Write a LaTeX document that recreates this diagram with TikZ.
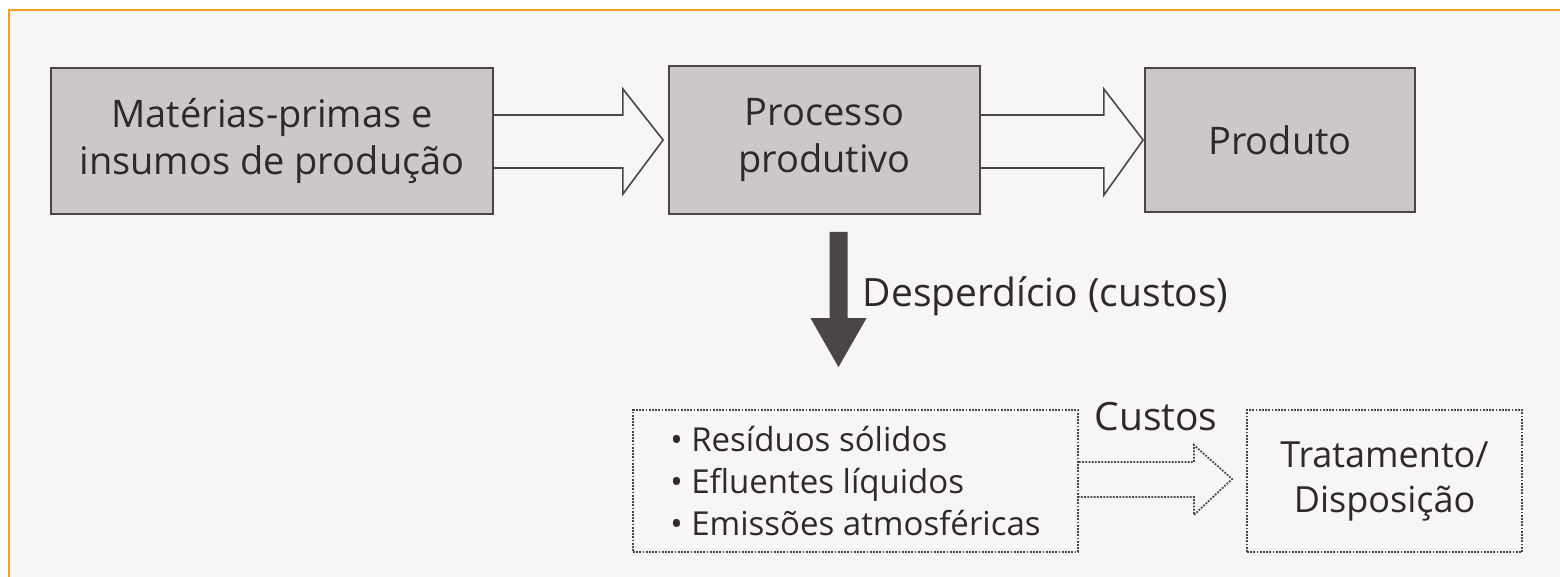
\documentclass[tikz,border=0pt]{standalone}
\usepackage{fontspec}
\setmainfont{Open Sans}
\usetikzlibrary{calc}
\definecolor{bg}{HTML}{F8F5F5}
\definecolor{boxfill}{HTML}{CCC8C8}
\definecolor{edge}{HTML}{4A4646}
\definecolor{ink}{HTML}{2E2A2A}
\definecolor{frame}{HTML}{F0A020}
\begin{document}
\begin{tikzpicture}[x=1pt,y=-1pt,
  gbox/.style={draw=edge, fill=boxfill, line width=1.8pt, inner sep=0pt, align=center, text=ink,
    font=\fontsize{38}{47}\selectfont},
  dbox/.style={draw=edge, line width=1.8pt, dash pattern=on 1.8pt off 1.4pt, inner sep=0pt, text=ink},
  hollow/.style={draw=edge, line width=1.6pt, line join=miter},
  dotarrow/.style={draw=edge, line width=1.8pt, dash pattern=on 1.8pt off 1.4pt},
  solidarrow/.style={fill=edge},
  lbl/.style={text=ink, inner sep=0pt, font=\fontsize{39}{44}\selectfont}
]
\fill[white] (0,0) rectangle (1560,577);
\useasboundingbox (0,0) rectangle (1560,577);
\fill[bg] (9,10) rectangle (1560,577);
\draw[frame, line width=2pt] (9,577) -- (9,10) -- (1560,10);

% top row
\node[gbox, minimum width=442pt, minimum height=146pt] (b1) at (272,141) {Matérias-primas e\\insumos de produção};
\node[gbox, minimum width=311pt, minimum height=148pt] (b2) at (824.5,140) {Processo\\produtivo};
\node[gbox, minimum width=270pt, minimum height=144pt] (b3) at (1280,140) {Produto};

% bottom row
\node[dbox, minimum width=445pt, minimum height=142pt, align=left,
  font=\fontsize{33}{42}\selectfont] (b4) at (855.5,481)
  {• Resíduos sólidos\\• Efluentes líquidos\\• Emissões atmosféricas};
\node[dbox, minimum width=275pt, minimum height=142pt, align=center,
  font=\fontsize{36}{45}\selectfont] (b5) at (1384.5,481) {Tratamento/\\Disposição};

% hollow arrows
\draw[hollow] ($(b1.east)+(0,-26)$) -- ($(b1.east)+(129,-26)$) -- ($(b1.east)+(129,-52)$)
  -- ($(b2.west)+(-5,0)$) -- ($(b1.east)+(129,53)$) -- ($(b1.east)+(129,27)$) -- ($(b1.east)+(0,27)$);
\draw[hollow] ($(b2.east)+(0,-25)$) -- ($(b2.east)+(123,-25)$) -- ($(b2.east)+(123,-51)$)
  -- ($(b3.west)+(-1,0)$) -- ($(b2.east)+(123,55)$) -- ($(b2.east)+(123,28)$) -- ($(b2.east)+(0,28)$);

% waste arrow
\coordinate (dtop) at ($(b2.south)+(14,17)$);
\coordinate (dtip) at ($(dtop |- b4.north)+(0,-42)$);
\fill[solidarrow] ($(dtop)+(-9,0)$) -- ($(dtop)+(9,0)$) -- ($(dtip)+(9,-49)$) -- ($(dtip)+(28,-49)$)
  -- (dtip) -- ($(dtip)+(-28,-49)$) -- ($(dtip)+(-9,-49)$) -- cycle;
\node[lbl, anchor=west] (w) at ($(dtop)+(24,64)$) {Desperdício (custos)};

% dotted arrow
\draw[dotarrow] ($(b4.east)+(0,-19)$) -- ($(b4.east)+(115,-19)$) -- ($(b4.east)+(115,-36)$)
  -- ($(b5.west)+(-14,-2)$) -- ($(b4.east)+(115,34)$) -- ($(b4.east)+(115,16)$) -- ($(b4.east)+(0,16)$);
\node[lbl] (c) at (1156,417) {Custos};
\end{tikzpicture}
\end{document}
